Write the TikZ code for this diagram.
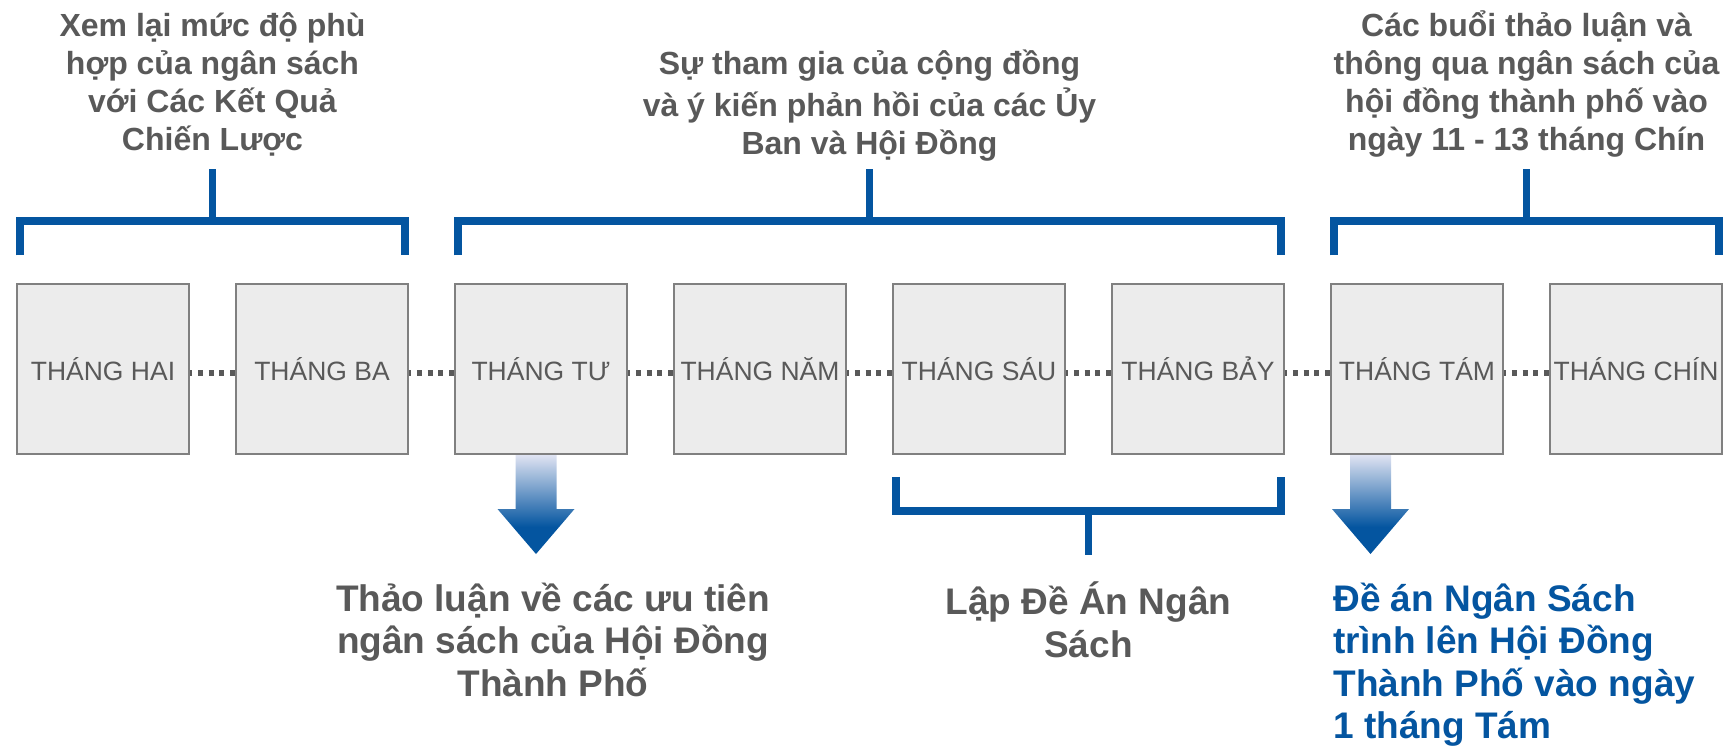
\documentclass[tikz,border=0pt]{standalone}
\usepackage{fontspec}
\setmainfont{Liberation Sans}
\usetikzlibrary{calc}

\definecolor{cityblue}{HTML}{0455A0}
\definecolor{textgray}{HTML}{595959}
\definecolor{boxgray}{HTML}{ECECEC}
\definecolor{edgegray}{HTML}{808080}
\definecolor{fadetop}{HTML}{E2E5F3}

\pgfdeclareverticalshading{arrowfade}{100bp}{color(0bp)=(cityblue); color(38.5bp)=(cityblue); color(75bp)=(fadetop); color(100bp)=(fadetop)}

\tikzset{
    month/.style={draw=edgegray, line width=0.75pt, fill=boxgray, minimum width=86pt, minimum height=85pt,
        inner sep=0pt, text=textgray, font=\fontsize{13.25}{15}\selectfont},
    dots/.style={draw=textgray, line width=2.6pt, dash pattern=on 2.5pt off 2.85pt, dash phase=1.25pt},
    brk/.style={draw=cityblue, line width=3.85pt},
    toplbl/.style={inner sep=0pt, align=center, anchor=north, text=textgray, font=\bfseries\fontsize{16}{19}\selectfont},
    lowlbl/.style={inner sep=0pt, align=center, anchor=north, text=textgray, font=\bfseries\fontsize{18.5}{21.25}\selectfont},
    fadearrow/.pic={
        \shade[shading=arrowfade] (-20.5,0) -- (20.5,0) -- (20.5,55) -- (38.5,55) -- (0,100) -- (-38.5,55) -- (-20.5,55) -- cycle;
    }
}

\begin{document}
\begin{tikzpicture}[x=0.5pt, y=-0.5pt]
    \useasboundingbox (0,0) rectangle (1728,752);

    % Arrows under April and August
    \pic at (536,454) {fadearrow};
    \pic at (1370.5,454) {fadearrow};

    % Months
    \foreach \lbl [count=\i] in {THÁNG HAI,THÁNG BA,THÁNG TƯ,THÁNG NĂM,THÁNG SÁU,THÁNG BẢY,THÁNG TÁM,THÁNG CHÍN}
        \node[month] (m\i) at ({103+219*(\i-1)}, 369) {\lbl};

    % Dotted links between months
    \foreach \i/\j in {1/2,2/3,3/4,4/5,5/6,6/7,7/8}
        \draw[dots] ($(m\i.east)+(0,4)$) -- ($(m\j.west)+(0,4)$);

    % Brackets above the months
    \foreach \a/\b/\n in {1/2/1,3/6/2,7/8/3} {
        \draw[brk] ($(m\a.north west)+(3.85,-28)$) |- ($(m\b.north east)+(-3.85,-62.5)$)
            -- ($(m\b.north east)+(-3.85,-28)$);
        \coordinate (s\n) at ($(m\a.north west)!0.5!(m\b.north east)+(0,-114)$);
        \draw[brk] ($(m\a.north west)!0.5!(m\b.north east)+(0,-62.5)$) -- (s\n);
    }

    % Bracket below June and July
    \draw[brk] ($(m5.south west)+(3.85,22)$) |- ($(m6.south east)+(-3.85,56.5)$)
        -- ($(m6.south east)+(-3.85,22)$);
    \coordinate (s4) at ($(m5.south west)!0.5!(m6.south east)+(0,100)$);
    \draw[brk] ($(m5.south west)!0.5!(m6.south east)+(0,56.5)$) -- (s4);

    % Labels above
    \node[toplbl] (t1) at ($(s1)+(0,-159.6)$) {\strut Xem lại mức độ phù\\hợp của ngân sách\\với Các Kết Quả\\Chiến Lược};
    \node[toplbl] (t2) at ($(s2)+(0,-121.6)$) {\strut Sự tham gia của cộng đồng\\và ý kiến phản hồi của các Ủy\\Ban và Hội Đồng};
    \node[toplbl] (t3) at ($(s3)+(0,-159.6)$) {\strut Các buổi thảo luận và\\thông qua ngân sách của\\hội đồng thành phố vào\\ngày 11 - 13 tháng Chín};

    % Labels below
    \node[lowlbl] (t4) at (553,581) {\strut Thảo luận về các ưu tiên\\ngân sách của Hội Đồng\\Thành Phố};
    \node[lowlbl] (t5) at ($(s4)+(0,27)$) {\strut Lập Đề Án Ngân\\Sách};
    \node[lowlbl, align=left, anchor=north west, text=cityblue] (t6) at (1333,581) {\strut Đề án Ngân Sách\\trình lên Hội Đồng\\Thành Phố vào ngày\\1 tháng Tám};

\end{tikzpicture}
\end{document}
